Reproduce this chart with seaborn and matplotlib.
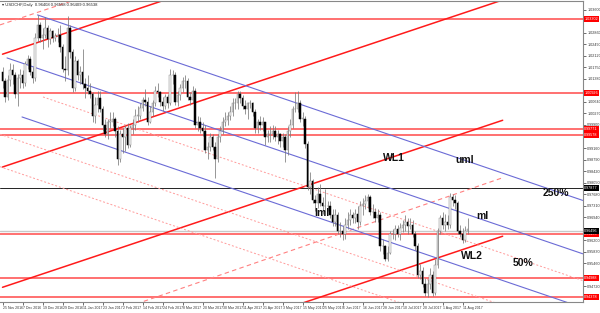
import numpy as np
import pandas as pd
import matplotlib
matplotlib.use("Agg")
import matplotlib.pyplot as plt
import matplotlib.ticker as mticker
import seaborn as sns

# ---------------- data ----------------
first_open = 1.0160
closes = [1.0130, 1.0080, 1.0135, 1.0165, 1.0150, 1.0090, 1.0140, 1.0150, 1.0125, 1.0185,
          1.0200, 1.0160, 1.0140, 1.0270, 1.0310, 1.0270, 1.0280, 1.0300, 1.0265, 1.0290,
          1.0270, 1.0275, 1.0280, 1.0240, 1.0170, 1.0165, 1.0300, 1.0225, 1.0110, 1.0195,
          1.0150, 1.0160, 1.0120, 1.0110, 1.0100, 1.0090, 1.0020, 1.0055, 1.0075, 1.0040,
          0.9990, 0.9960, 1.0000, 1.0000, 1.0010, 0.9970, 0.9880, 0.9960, 0.9950, 0.9980,
          0.9925, 0.9980, 0.9990, 1.0020, 1.0020, 1.0045, 1.0070, 1.0065, 1.0000, 1.0030,
          1.0060, 1.0100, 1.0095, 1.0065, 1.0050, 1.0080, 1.0060, 1.0150, 1.0150, 1.0065,
          1.0085, 1.0110, 1.0130, 1.0130, 1.0080, 1.0070, 1.0100, 0.9990, 1.0000, 0.9980,
          0.9970, 0.9910, 0.9920, 0.9950, 0.9920, 0.9880, 0.9950, 0.9970, 1.0000, 1.0005,
          1.0020, 1.0030, 1.0060, 1.0060, 1.0090, 1.0075, 1.0050, 1.0040, 1.0060, 1.0060,
          1.0030, 0.9980, 1.0000, 0.9990, 1.0000, 0.9950, 0.9960, 0.9960, 0.9970, 0.9950,
          0.9960, 0.9940, 0.9950, 0.9910, 0.9970, 0.9990, 1.0040, 1.0040, 1.0060, 1.0010,
          1.0010, 0.9930, 0.9790, 0.9810, 0.9750, 0.9740, 0.9770, 0.9740, 0.9730, 0.9730,
          0.9730, 0.9700, 0.9680, 0.9700, 0.9650, 0.9650, 0.9640, 0.9670, 0.9685, 0.9700,
          0.9690, 0.9705, 0.9680, 0.9730, 0.9735, 0.9745, 0.9760, 0.9710, 0.9710, 0.9690,
          0.9700, 0.9600, 0.9600, 0.9560, 0.9580, 0.9640, 0.9640, 0.9655, 0.9640, 0.9660,
          0.9670, 0.9680, 0.9665, 0.9670, 0.9640, 0.9600, 0.9510, 0.9520, 0.9480, 0.9450,
          0.9480, 0.9510, 0.9450, 0.9540, 0.9650, 0.9690, 0.9670, 0.9680, 0.9670, 0.9760,
          0.9750, 0.9740, 0.9650, 0.9640, 0.9620, 0.9650, 0.9655]
highs = [1.0175, 1.0140, 1.0150, 1.0190, 1.0185, 1.0160, 1.0155, 1.0170, 1.0165, 1.0195,
         1.0215, 1.0210, 1.0175, 1.0285, 1.0343, 1.0320, 1.0300, 1.0335, 1.0310, 1.0300,
         1.0295, 1.0285, 1.0300, 1.0310, 1.0250, 1.0210, 1.0340, 1.0310, 1.0235, 1.0210,
         1.0200, 1.0180, 1.0235, 1.0140, 1.0150, 1.0125, 1.0095, 1.0080, 1.0100, 1.0100,
         1.0050, 1.0010, 1.0010, 1.0030, 1.0030, 1.0015, 0.9985, 0.9975, 0.9980, 0.9990,
         0.9995, 0.9990, 1.0010, 1.0040, 1.0050, 1.0060, 1.0080, 1.0105, 1.0080, 1.0050,
         1.0070, 1.0115, 1.0125, 1.0100, 1.0080, 1.0090, 1.0090, 1.0170, 1.0165, 1.0160,
         1.0100, 1.0120, 1.0145, 1.0150, 1.0140, 1.0095, 1.0115, 1.0110, 1.0020, 1.0015,
         1.0000, 0.9990, 0.9935, 0.9965, 0.9960, 0.9935, 0.9960, 0.9985, 1.0015, 1.0030,
         1.0030, 1.0050, 1.0075, 1.0075, 1.0100, 1.0100, 1.0085, 1.0070, 1.0065, 1.0070,
         1.0065, 1.0040, 1.0010, 1.0020, 1.0015, 0.9970, 0.9975, 0.9985, 0.9990, 0.9985,
         0.9975, 0.9965, 0.9965, 0.9960, 0.9985, 1.0010, 1.0050, 1.0095, 1.0100, 1.0070,
         1.0030, 1.0020, 0.9940, 0.9840, 0.9815, 0.9765, 0.9790, 0.9800, 0.9760, 0.9785,
         0.9745, 0.9745, 0.9720, 0.9720, 0.9710, 0.9680, 0.9665, 0.9690, 0.9710, 0.9720,
         0.9710, 0.9720, 0.9730, 0.9745, 0.9755, 0.9765, 0.9770, 0.9765, 0.9735, 0.9725,
         0.9720, 0.9710, 0.9625, 0.9605, 0.9600, 0.9650, 0.9655, 0.9670, 0.9670, 0.9675,
         0.9685, 0.9700, 0.9690, 0.9690, 0.9685, 0.9650, 0.9610, 0.9545, 0.9535, 0.9500,
         0.9495, 0.9530, 0.9520, 0.9560, 0.9660, 0.9700, 0.9710, 0.9705, 0.9700, 0.9772,
         0.9770, 0.9765, 0.9745, 0.9670, 0.9660, 0.9665, 0.9690]
lows = [1.0110, 1.0065, 1.0070, 1.0115, 1.0120, 1.0075, 1.0050, 1.0110, 1.0110, 1.0115,
        1.0170, 1.0150, 1.0125, 1.0130, 1.0255, 1.0255, 1.0235, 1.0270, 1.0240, 1.0250,
        1.0255, 1.0260, 1.0255, 1.0225, 1.0160, 1.0130, 1.0150, 1.0205, 1.0095, 1.0100,
        1.0135, 1.0120, 1.0105, 1.0075, 1.0090, 1.0075, 1.0000, 0.9995, 1.0030, 1.0030,
        0.9970, 0.9950, 0.9945, 0.9980, 0.9985, 0.9950, 0.9862, 0.9870, 0.9900, 0.9905,
        0.9915, 0.9920, 0.9960, 0.9975, 1.0000, 1.0010, 1.0035, 1.0050, 0.9990, 0.9995,
        1.0020, 1.0050, 1.0080, 1.0050, 1.0035, 1.0040, 1.0045, 1.0055, 1.0120, 1.0055,
        1.0050, 1.0070, 1.0095, 1.0110, 1.0070, 1.0055, 1.0060, 0.9980, 0.9970, 0.9965,
        0.9955, 0.9900, 0.9880, 0.9905, 0.9910, 0.9820, 0.9870, 0.9935, 0.9960, 0.9985,
        0.9990, 1.0005, 1.0020, 1.0040, 1.0040, 1.0060, 1.0040, 1.0025, 1.0010, 1.0045,
        1.0020, 0.9965, 0.9965, 0.9975, 0.9970, 0.9925, 0.9935, 0.9935, 0.9945, 0.9940,
        0.9930, 0.9920, 0.9920, 0.9870, 0.9895, 0.9950, 0.9980, 1.0030, 1.0030, 1.0000,
        0.9985, 0.9915, 0.9780, 0.9770, 0.9740, 0.9715, 0.9725, 0.9730, 0.9705, 0.9715,
        0.9715, 0.9690, 0.9665, 0.9665, 0.9640, 0.9630, 0.9620, 0.9625, 0.9655, 0.9670,
        0.9675, 0.9675, 0.9655, 0.9670, 0.9700, 0.9720, 0.9725, 0.9700, 0.9690, 0.9680,
        0.9680, 0.9585, 0.9575, 0.9555, 0.9555, 0.9575, 0.9625, 0.9620, 0.9630, 0.9620,
        0.9645, 0.9650, 0.9640, 0.9655, 0.9630, 0.9590, 0.9500, 0.9495, 0.9470, 0.9440,
        0.9438, 0.9465, 0.9440, 0.9445, 0.9530, 0.9640, 0.9655, 0.9650, 0.9655, 0.9660,
        0.9730, 0.9720, 0.9640, 0.9630, 0.9610, 0.9615, 0.9640]

dates = pd.bdate_range("2016-11-25", "2017-08-15", freq="C", holidays=["2017-01-02"])

tick_labels = ["25 Nov 2016", "7 Dec 2016", "19 Dec 2016", "29 Dec 2016", "11 Jan 2017",
               "23 Jan 2017", "2 Feb 2017", "14 Feb 2017", "24 Feb 2017", "8 Mar 2017",
               "20 Mar 2017", "30 Mar 2017", "11 Apr 2017", "21 Apr 2017", "3 May 2017",
               "15 May 2017", "25 May 2017", "6 Jun 2017", "16 Jun 2017", "28 Jun 2017",
               "10 Jul 2017", "20 Jul 2017", "1 Aug 2017", "11 Aug 2017"]

# horizontal levels
red_levels = [1.03302, 1.00926, 0.99771, 0.99578, 0.96400, 0.94988, 0.94378]
black_level = 0.97877
bid_level = 0.96496

# channel lines: (bar0, price0, bar1, price1)
red_lines = [(0, 1.0217, 200, 1.0753), (0, 0.9855, 200, 1.0391),
             (0, 0.9469, 200, 1.0005), (0, 0.9097, 200, 0.9633)]
red_dashed = [(0, 0.92678, 200, 0.98206), (-1, 1.0311, 200, 1.0850)]
blue_lines = [(14, 1.0343, 232, 0.97479), (1.8, 1.0205, 232, 0.95766),
              (7.8, 1.00156, 232, 0.94035)]
pink_dotted = [(16.2, 1.00798, 232, 0.94907), (-1, 0.9960, 232, 0.93239),
               (-1, 0.9856, 232, 0.92199)]

# ---------------- figure ----------------
sns.set_theme(style="white")
plt.rcParams["font.family"] = ["Liberation Sans", "DejaVu Sans"]

fig = plt.figure(figsize=(6.0, 3.13), dpi=100)
ax = fig.add_axes([0.0, 0.035, 0.972, 0.962])
ax.set_facecolor("white")

n = len(closes)
idx = np.arange(n)
opens = [first_open] + closes[:-1]
df = pd.DataFrame({"date": dates[:n], "open": opens, "high": highs, "low": lows, "close": closes})
df["bar"] = idx

# horizontal levels
for lv in red_levels:
    ax.axhline(lv, color="#ff2a2a", lw=1.1, alpha=0.85, zorder=1)
ax.axhline(black_level, color="#222222", lw=0.7, zorder=1)
ax.axhline(bid_level, color="#c8c8c8", lw=1.0, zorder=1)

def seg(line, **kw):
    b0, p0, b1, p1 = line
    sns.lineplot(x=[b0, b1], y=[p0, p1], ax=ax, **kw)

for ln in red_lines:
    seg(ln, color="#ff1a1a", lw=1.1, zorder=2)
for ln in red_dashed:
    seg(ln, color="#ff8080", lw=0.8, linestyle=(0, (4, 3)), zorder=2)
for ln in blue_lines:
    seg(ln, color="#6b6bd6", lw=0.8, zorder=2)
for ln in pink_dotted:
    seg(ln, color="#ff9a9a", lw=0.7, linestyle=(0, (2, 2)), zorder=2)

# candles
up = df["close"] >= df["open"]
ax.vlines(df["bar"], df["low"], df["high"], color="#7a7a7a", lw=0.55, zorder=3)
body_lo = df[["open", "close"]].min(axis=1)
body_h = (df["close"] - df["open"]).abs().clip(lower=0.00012)
ax.bar(df["bar"][up], body_h[up], bottom=body_lo[up], width=0.6,
       color="#f4f4f4", edgecolor="#8a8a8a", lw=0.35, zorder=4)
ax.bar(df["bar"][~up], body_h[~up], bottom=body_lo[~up], width=0.6,
       color="black", edgecolor="black", lw=0.35, zorder=4)

# limits
ymin, ymax = 0.94217, 1.03879
ax.set_xlim(-1, 232.2)
ax.set_ylim(ymin, ymax)
ax.set_xlabel("")
ax.set_ylabel("")

# right price scale: regular ticks, hidden where a coloured price tag sits
tagged = red_levels + [black_level, bid_level]
step = 0.0037
cand = np.arange(np.ceil(ymin / step) * step, ymax, step)
yt = [v for v in cand if min(abs(v - t) for t in tagged) > 0.0011 and v < ymax - 0.0008]
ax.yaxis.tick_right()
ax.set_yticks(yt)
ax.yaxis.set_major_formatter(mticker.FormatStrFormatter("%.5f"))
ax.tick_params(axis="y", labelsize=2.7, colors="#333333", length=2, width=0.5, pad=1.0, right=True)
label_pos = [int(np.where(df["date"].dt.strftime("%-d %b %Y") == t)[0][0]) for t in tick_labels]
ax.set_xticks(label_pos)
ax.set_xticklabels(tick_labels, ha="left")
ax.tick_params(axis="x", labelsize=2.5, colors="#333333", length=2, width=0.5, pad=1, bottom=True)
for s in ["right", "bottom", "top"]:
    ax.spines[s].set_color("#888888")
    ax.spines[s].set_linewidth(0.8)
ax.spines["left"].set_visible(False)
ax.grid(False)

# price tags on the right axis
ytr = ax.get_yaxis_transform()
for lv in red_levels:
    ax.text(1.002, lv, f"{lv:.5f}", transform=ytr, fontsize=2.7, color="white", va="center",
            ha="left", bbox=dict(boxstyle="square,pad=0.2", fc="#ff0000", ec="none"), clip_on=False)
for lv in [black_level, bid_level]:
    ax.text(1.002, lv, f"{lv:.5f}", transform=ytr, fontsize=2.7, color="white", va="center",
            ha="left", bbox=dict(boxstyle="square,pad=0.2", fc="#000000", ec="none"), clip_on=False)

# title
ax.text(0.004, 0.993, "\u25BE USDCHF,Daily  0.96408 0.96558 0.96409 0.96538", transform=ax.transAxes,
        fontsize=3.0, color="#222222", va="top", ha="left")

# annotations
ann = dict(fontsize=7.5, fontweight="bold", color="#111111", va="center", ha="left", zorder=6)
ax.text(152.2, 0.98840, "WL1", **ann)
ax.text(181.0, 0.98776, "uml", **ann)
ax.text(216.0, 0.97716, "250%", **ann)
ax.text(124.6, 0.97074, "lml", **ann)
ax.text(189.4, 0.96978, "ml", **ann)
ax.text(183.4, 0.95694, "WL2", **ann)
ax.text(204.2, 0.95469, "50%", **ann)

fig.savefig("out.png", dpi=100)
